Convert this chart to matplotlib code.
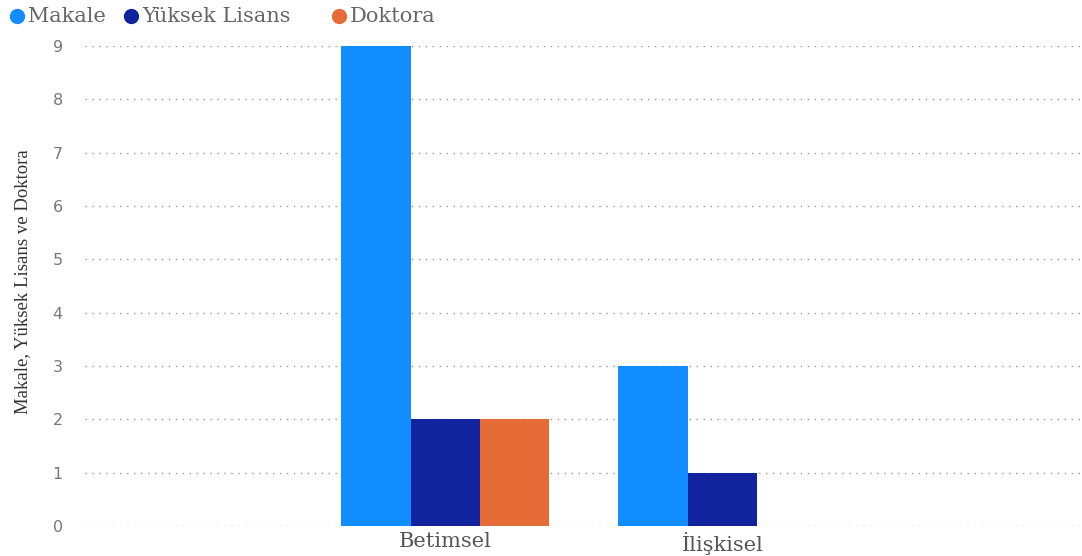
import matplotlib
matplotlib.use("Agg")
import matplotlib.pyplot as plt
from matplotlib.lines import Line2D
import numpy as np

categories = ["Betimsel", "İlişkisel"]
series_names = ["Makale", "Yüksek Lisans", "Doktora"]
makale = [9, 3]
yuksek_lisans = [2, 1]
doktora = [2, 0]
colors = ["#118DFF", "#12239E", "#E66C37"]
y_ticks = [0, 1, 2, 3, 4, 5, 6, 7, 8, 9]

W, H = 1082, 556
fig = plt.figure(figsize=(W / 100, H / 100), dpi=100)
ax = fig.add_axes([0.0786, 0.054, 0.9194, 0.863])

x = np.arange(len(categories))
width = 0.25
for i, (vals, col) in enumerate(zip([makale, yuksek_lisans, doktora], colors)):
    v = np.array(vals, dtype=float)
    mask = v > 0
    ax.bar(x[mask] + (i - 1) * width, v[mask], width=width, color=col, zorder=3)

ax.set_xlim(-1.30, 2.29)
ax.set_ylim(0, 9)
ax.set_yticks(y_ticks)
ax.set_xticks(x)
ax.set_xticklabels(categories, fontsize=15, color="#555555", family="DejaVu Serif")
for lbl in ax.get_yticklabels():
    lbl.set_fontsize(11.5)
    lbl.set_color("#777777")
    lbl.set_family("DejaVu Sans")
ax.tick_params(axis="both", length=0)
ax.tick_params(axis="y", pad=16)
ax.tick_params(axis="x", pad=4)
ax.yaxis.grid(True, linestyle=(0, (1, 4)), color="#999999", linewidth=1.0, zorder=0)
for s in ax.spines.values():
    s.set_visible(False)

fig.text(0.021, 0.493, "Makale, Yüksek Lisans ve Doktora", rotation=90,
         ha="center", va="center", fontsize=13.5, family="Liberation Serif", color="#333333")

# legend drawn by hand at the top-left, like the source chart
legend_x = [17, 131, 339]
legend_y = 1 - 16 / H
for name, col, px in zip(series_names, colors, legend_x):
    fig.add_artist(Line2D([px / W], [legend_y], marker="o", markersize=10,
                          color=col, linestyle="", transform=fig.transFigure))
    fig.text((px + 11) / W, legend_y, name, ha="left", va="center",
             fontsize=15, family="DejaVu Serif", color="#666666")

fig.savefig("out.png", dpi=100)
